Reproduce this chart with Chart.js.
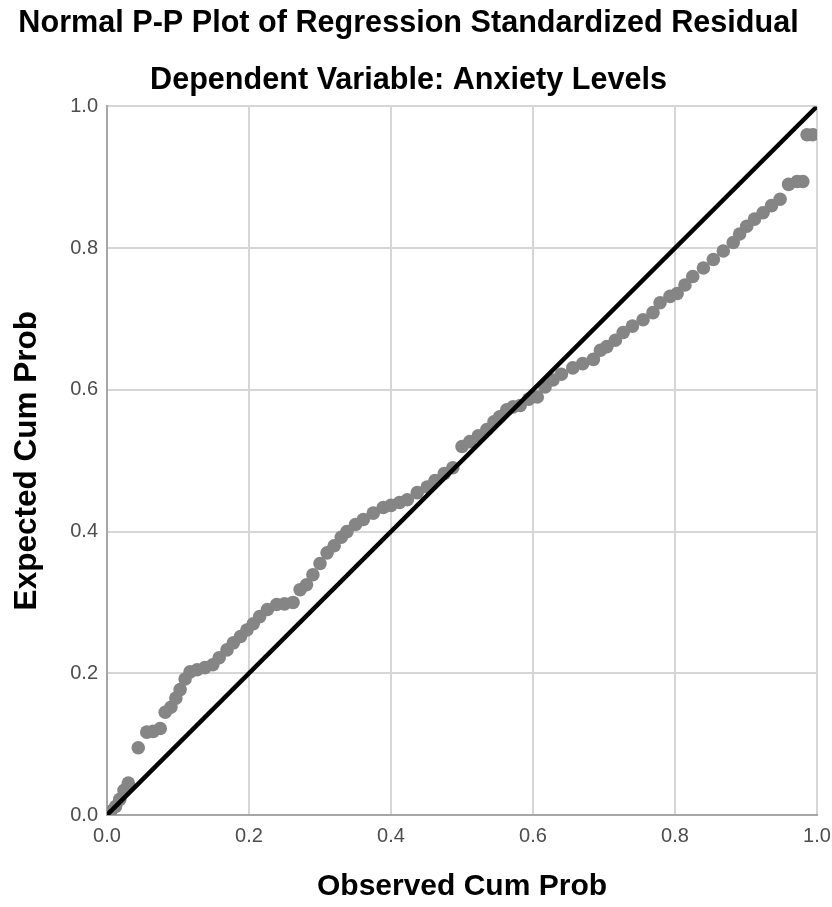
<!DOCTYPE html>
<html>
<head>
<meta charset="utf-8">
<script src="https://cdn.jsdelivr.net/npm/chart.js@4"></script>
<style>
    html, body { margin: 0; padding: 0; background: #ffffff; }
    #wrap { width: 832px; height: 907px; }
</style>
</head>
<body>
<div id="wrap"><canvas id="ppChart" width="832" height="907"></canvas></div>
<script>
// Observed cumulative probability (x) and expected cumulative probability (y)
const observedCum = [0.005, 0.012, 0.018, 0.024, 0.030, 0.044, 0.056, 0.065, 0.075, 0.082,
    0.090, 0.097, 0.103, 0.110, 0.117, 0.127, 0.138, 0.149, 0.158, 0.169,
    0.178, 0.188, 0.197, 0.206, 0.215, 0.226, 0.239, 0.250, 0.262, 0.272,
    0.281, 0.290, 0.300, 0.310, 0.320, 0.330, 0.338, 0.350, 0.361, 0.375,
    0.389, 0.400, 0.412, 0.423, 0.437, 0.451, 0.462, 0.475, 0.487, 0.500,
    0.511, 0.523, 0.535, 0.545, 0.553, 0.563, 0.572, 0.582, 0.594, 0.606,
    0.617, 0.628, 0.640, 0.656, 0.670, 0.685, 0.695, 0.704, 0.716, 0.727,
    0.740, 0.755, 0.769, 0.779, 0.793, 0.803, 0.814, 0.825, 0.840, 0.854,
    0.868, 0.882, 0.891, 0.901, 0.912, 0.924, 0.936, 0.948, 0.960, 0.972,
    0.980, 0.986, 0.994];
const expectedCum = [0.005, 0.012, 0.022, 0.035, 0.045, 0.095, 0.117, 0.118, 0.122, 0.145,
    0.152, 0.165, 0.177, 0.192, 0.202, 0.205, 0.208, 0.212, 0.222, 0.233,
    0.243, 0.252, 0.261, 0.270, 0.280, 0.290, 0.297, 0.298, 0.300, 0.318,
    0.325, 0.339, 0.355, 0.370, 0.380, 0.392, 0.400, 0.410, 0.417, 0.426,
    0.434, 0.437, 0.441, 0.445, 0.455, 0.463, 0.472, 0.482, 0.490, 0.520,
    0.527, 0.535, 0.544, 0.555, 0.562, 0.572, 0.576, 0.578, 0.587, 0.590,
    0.604, 0.614, 0.622, 0.631, 0.637, 0.643, 0.656, 0.661, 0.670, 0.681,
    0.690, 0.699, 0.709, 0.723, 0.732, 0.736, 0.748, 0.760, 0.772, 0.784,
    0.796, 0.808, 0.820, 0.831, 0.841, 0.850, 0.860, 0.869, 0.890, 0.894,
    0.894, 0.960, 0.960];
// Reference diagonal
const diagX = [0, 1];
const diagY = [0, 1];
const tickValues = [0, 0.2, 0.4, 0.6, 0.8, 1.0];

const sans = "'Liberation Sans', Arial, sans-serif";

const points = observedCum.map((x, i) => ({ x: x, y: expectedCum[i] }));
const diagonal = diagX.map((x, i) => ({ x: x, y: diagY[i] }));

const ctx = document.getElementById('ppChart').getContext('2d');
const ppChart = new Chart(ctx, {
    type: 'scatter',
    data: {
        datasets: [{
            type: 'line',
            data: diagonal,
            borderColor: '#000000',
            borderWidth: 4.5,
            pointRadius: 0,
            fill: false,
            order: 0
        }, {
            data: points,
            backgroundColor: '#858585',
            borderWidth: 0,
            pointRadius: 6.8,
            order: 1
        }]
    },
    options: {
        responsive: false,
        animation: false,
        layout: {
            padding: { top: 0, right: 15, bottom: 0, left: 0 }
        },
        plugins: {
            legend: { display: false },
            tooltip: { enabled: false },
            title: {
                display: true,
                text: 'Normal P-P Plot of Regression Standardized Residual',
                color: '#000000',
                font: { family: sans, size: 30.6, weight: 'bold', lineHeight: 1.2 },
                padding: { top: 5, bottom: 20 }
            },
            subtitle: {
                display: true,
                text: 'Dependent Variable: Anxiety Levels',
                color: '#000000',
                font: { family: sans, size: 30.6, weight: 'bold', lineHeight: 1.2 },
                padding: { top: 0, bottom: 8 }
            }
        },
        scales: {
            x: {
                type: 'linear',
                min: 0,
                max: 1,
                afterFit: function(scale) {
                    scale.height = 92;
                    scale.paddingLeft = 0;
                    scale.paddingRight = 0;
                },
                afterBuildTicks: function(scale) { scale.ticks = tickValues.map(v => ({ value: v })); },
                grid: { color: '#d6d6d6', lineWidth: 2, drawTicks: false },
                border: { color: '#a6a6a6', width: 2 },
                ticks: {
                    color: '#4d4d4d',
                    padding: 9,
                    font: { family: sans, size: 20 },
                    callback: v => v.toFixed(1)
                },
                title: {
                    display: true,
                    text: 'Observed Cum Prob',
                    color: '#000000',
                    font: { family: sans, size: 30, weight: 'bold', lineHeight: 1 },
                    padding: { top: 0, bottom: 5 }
                }
            },
            y: {
                type: 'linear',
                min: 0,
                max: 1,
                afterFit: function(scale) {
                    scale.width = 107;
                    scale.paddingTop = 0;
                    scale.paddingBottom = 0;
                },
                afterBuildTicks: function(scale) { scale.ticks = tickValues.map(v => ({ value: v })); },
                grid: { color: '#d6d6d6', lineWidth: 2, drawTicks: false },
                border: { color: '#a6a6a6', width: 2 },
                ticks: {
                    color: '#4d4d4d',
                    padding: 9,
                    font: { family: sans, size: 20 },
                    callback: v => v.toFixed(1)
                },
                title: {
                    display: true,
                    text: 'Expected Cum Prob',
                    color: '#000000',
                    font: { family: sans, size: 31.5, weight: 'bold', lineHeight: 1 },
                    padding: { top: 12, bottom: 0 }
                }
            }
        }
    }
});
</script>
</body>
</html>
